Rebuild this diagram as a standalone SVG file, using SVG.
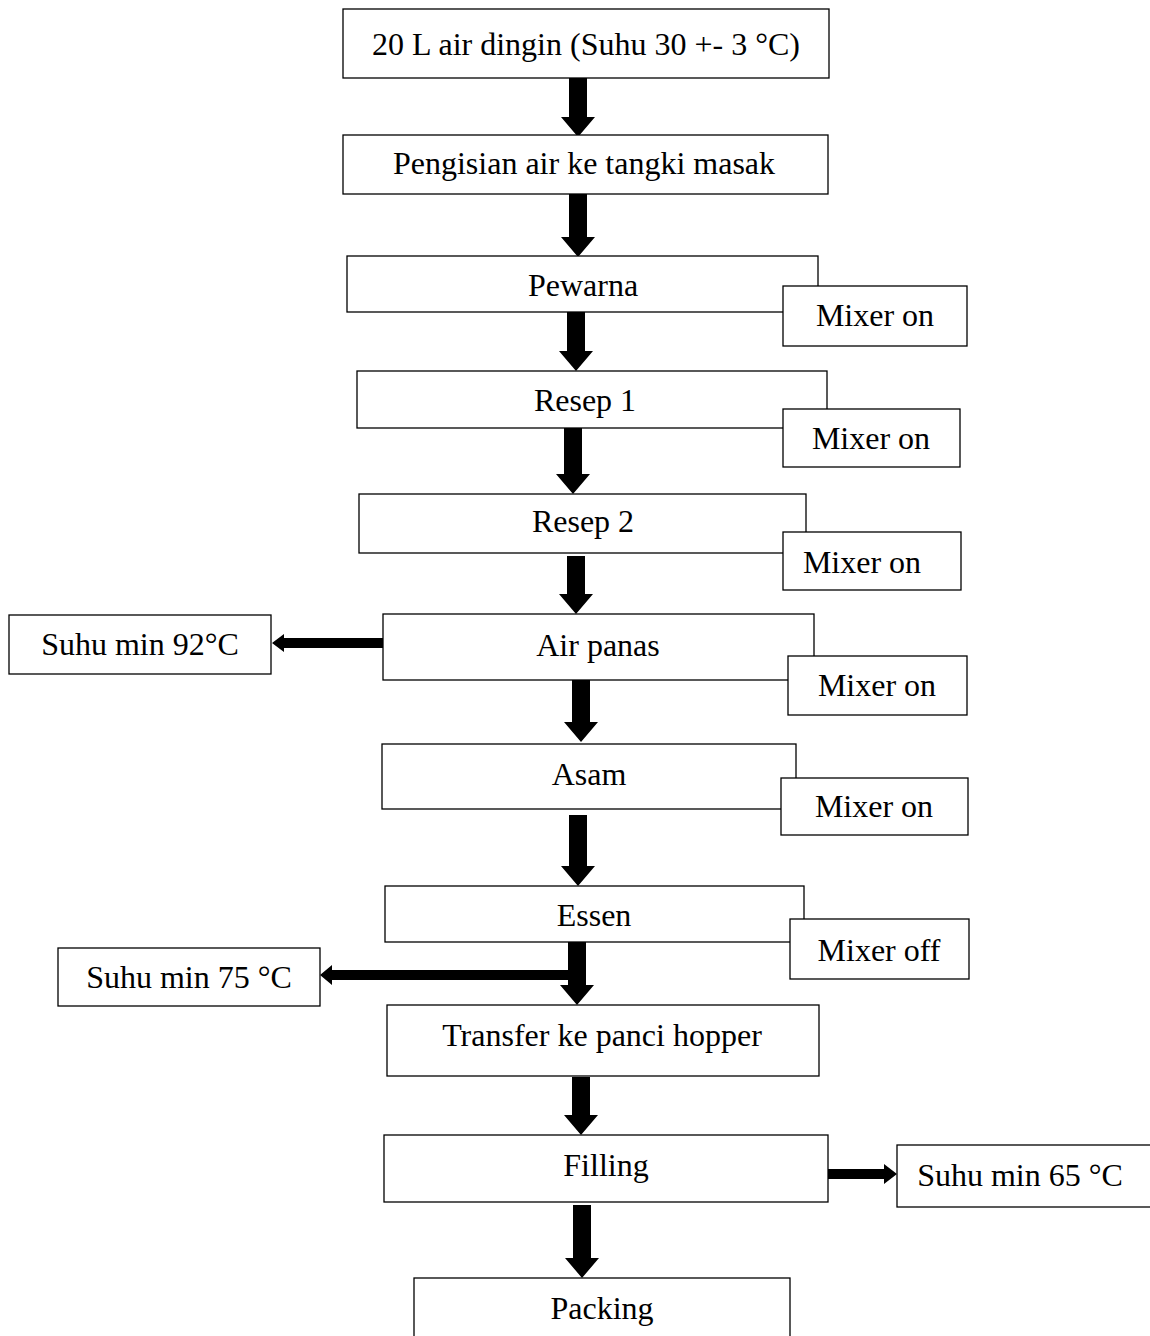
<svg xmlns="http://www.w3.org/2000/svg" width="1150" height="1336" viewBox="0 0 1150 1336">
<style>
.b{fill:#fff;stroke:#000;stroke-width:1.3}
.t{font-family:"Liberation Serif","Times New Roman",serif;font-size:32px;fill:#000;text-anchor:middle}
.a{fill:#000}
</style>
<rect width="1150" height="1336" fill="#fff"/>
<g id="connectors">
<polygon class="a" points="569,78 587,78 587,117 595,117 578,137 561,117 569,117"/>
<polygon class="a" points="569,194 587,194 587,237 595,237 578,257 561,237 569,237"/>
<polygon class="a" points="567,312 585,312 585,351 593,351 576,371 559,351 567,351"/>
<polygon class="a" points="564,428 582,428 582,474 590,474 573,494 556,474 564,474"/>
<polygon class="a" points="567,556 585,556 585,594 593,594 576,614 559,594 567,594"/>
<polygon class="a" points="572,680 590,680 590,722 598,722 581,742 564,722 572,722"/>
<polygon class="a" points="569,815 587,815 587,866 595,866 578,886 561,866 569,866"/>
<polygon class="a" points="568,942 586,942 586,985 594,985 577,1005 560,985 568,985"/>
<polygon class="a" points="572,1077 590,1077 590,1115 598,1115 581,1135 564,1115 572,1115"/>
<polygon class="a" points="573,1205 591,1205 591,1258 599,1258 582,1278 565,1258 573,1258"/>
<polygon class="a" points="383,638 383,648 284,648 284,652 272,643 284,634 284,638"/>
<polygon class="a" points="577,970 577,980 332,980 332,985 320,975 332,965 332,970"/>
<polygon class="a" points="828,1169 828,1179 884,1179 884,1184 897,1174 884,1164 884,1169"/>
</g>
<g id="n1"><rect class="b" x="343" y="9" width="486" height="69"/><text class="t" x="586" y="55">20 L air dingin (Suhu 30 +- 3 °C)</text></g>
<g id="n2"><rect class="b" x="343" y="135" width="485" height="59"/><text class="t" x="584" y="174">Pengisian air ke tangki masak</text></g>
<g id="n3"><rect class="b" x="347" y="256" width="471" height="56"/><text class="t" x="583" y="296">Pewarna</text></g>
<g id="m3"><rect class="b" x="783" y="286" width="184" height="60"/><text class="t" x="875" y="326">Mixer on</text></g>
<g id="n4"><rect class="b" x="357" y="371" width="470" height="57"/><text class="t" x="585" y="411">Resep 1</text></g>
<g id="m4"><rect class="b" x="783" y="409" width="177" height="58"/><text class="t" x="871" y="449">Mixer on</text></g>
<g id="n5"><rect class="b" x="359" y="494" width="447" height="59"/><text class="t" x="583" y="532">Resep 2</text></g>
<g id="m5"><rect class="b" x="783" y="532" width="178" height="58"/><text class="t" x="862" y="573">Mixer on</text></g>
<g id="n6"><rect class="b" x="383" y="614" width="431" height="66"/><text class="t" x="598" y="656">Air panas</text></g>
<g id="m6"><rect class="b" x="788" y="656" width="179" height="59"/><text class="t" x="877" y="696">Mixer on</text></g>
<g id="s92"><rect class="b" x="9" y="615" width="262" height="59"/><text class="t" x="140" y="655">Suhu min 92°C</text></g>
<g id="n7"><rect class="b" x="382" y="744" width="414" height="65"/><text class="t" x="589" y="785">Asam</text></g>
<g id="m7"><rect class="b" x="781" y="778" width="187" height="57"/><text class="t" x="874" y="817">Mixer on</text></g>
<g id="n8"><rect class="b" x="385" y="886" width="419" height="56"/><text class="t" x="594" y="926">Essen</text></g>
<g id="m8"><rect class="b" x="790" y="919" width="179" height="60"/><text class="t" x="879" y="961">Mixer off</text></g>
<g id="s75"><rect class="b" x="58" y="948" width="262" height="58"/><text class="t" x="189" y="988">Suhu min 75 °C</text></g>
<g id="n9"><rect class="b" x="387" y="1005" width="432" height="71"/><text class="t" x="602" y="1046">Transfer ke panci hopper</text></g>
<g id="n10"><rect class="b" x="384" y="1135" width="444" height="67"/><text class="t" x="606" y="1176">Filling</text></g>
<g id="s65"><rect class="b" x="897" y="1145" width="260" height="62"/><text class="t" x="1020" y="1186">Suhu min 65 °C</text></g>
<g id="n11"><rect class="b" x="414" y="1278" width="376" height="70"/><text class="t" x="602" y="1319">Packing</text></g>
</svg>
